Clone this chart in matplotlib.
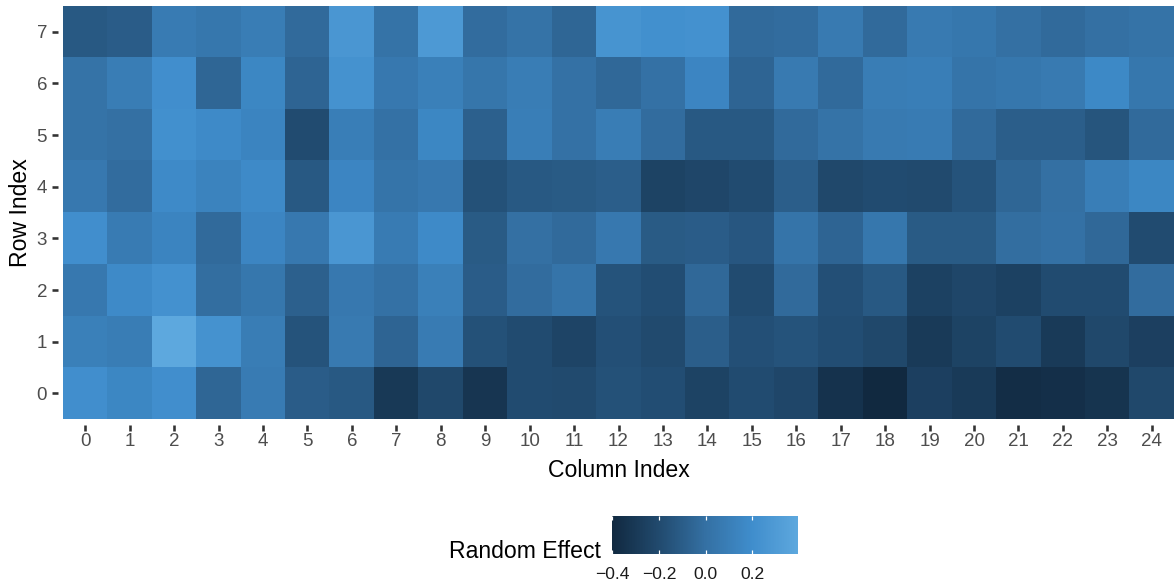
import numpy as np
import matplotlib
matplotlib.use("Agg")
import matplotlib.pyplot as plt
from matplotlib.colors import ListedColormap, Normalize
from matplotlib.cm import ScalarMappable

plt.rcParams['font.family'] = ['Liberation Sans', 'DejaVu Sans']

# Random effect per cell, one list per row index (0 = bottom row)
row0 = [0.21, 0.16, 0.21, -0.05, 0.08, -0.10, -0.12, -0.30, -0.21, -0.32, -0.19, -0.20, -0.16,
        -0.18, -0.24, -0.19, -0.22, -0.34, -0.401, -0.26, -0.29, -0.37, -0.36, -0.33, -0.21]
row1 = [0.11, 0.09, 0.397, 0.24, 0.09, -0.15, 0.07, -0.06, 0.08, -0.16, -0.19, -0.23, -0.17,
        -0.20, -0.09, -0.17, -0.15, -0.18, -0.21, -0.29, -0.24, -0.19, -0.29, -0.21, -0.26]
row2 = [0.06, 0.18, 0.23, -0.01, 0.05, -0.08, 0.06, 0.01, 0.11, -0.10, -0.02, 0.03, -0.15,
        -0.18, -0.04, -0.19, -0.03, -0.17, -0.12, -0.25, -0.22, -0.25, -0.19, -0.19, -0.02]
row3 = [0.21, 0.08, 0.14, -0.03, 0.15, 0.06, 0.27, 0.08, 0.18, -0.11, 0.00, -0.03, 0.06,
        -0.11, -0.10, -0.13, 0.03, -0.06, 0.05, -0.11, -0.11, -0.01, 0.01, -0.04, -0.19]
row4 = [0.06, -0.02, 0.18, 0.13, 0.18, -0.12, 0.15, 0.03, 0.06, -0.16, -0.12, -0.11, -0.09,
        -0.24, -0.22, -0.19, -0.09, -0.21, -0.19, -0.20, -0.15, -0.05, 0.00, 0.10, 0.16]
row5 = [0.02, 0.00, 0.22, 0.18, 0.14, -0.19, 0.10, 0.01, 0.16, -0.08, 0.10, 0.01, 0.09,
        -0.02, -0.12, -0.12, -0.03, 0.02, 0.07, 0.08, -0.03, -0.09, -0.09, -0.14, -0.03]
row6 = [0.02, 0.09, 0.21, -0.05, 0.16, -0.06, 0.24, 0.06, 0.11, 0.04, 0.09, 0.01, -0.04,
        0.01, 0.15, -0.06, 0.07, -0.03, 0.09, 0.10, 0.03, 0.05, 0.07, 0.17, 0.05]
row7 = [-0.12, -0.10, 0.08, 0.05, 0.09, -0.03, 0.27, 0.02, 0.29, -0.02, 0.02, -0.05, 0.25,
        0.22, 0.23, -0.03, -0.02, 0.07, -0.03, 0.07, 0.05, 0.00, -0.03, 0.00, 0.02]

col_labels = [str(i) for i in range(25)]
row_labels = [str(i) for i in range(8)]
legend_ticks = [-0.4, -0.2, 0.0, 0.2]

grid = np.array([row0, row1, row2, row3, row4, row5, row6, row7])


# --- sequential blue gradient, interpolated piecewise in CIELAB ---
def _srgb_to_lab(rgb):
    rgb = np.asarray(rgb, dtype=float)
    lin = np.where(rgb <= 0.04045, rgb / 12.92, ((rgb + 0.055) / 1.055) ** 2.4)
    m = np.array([[0.4124564, 0.3575761, 0.1804375],
                  [0.2126729, 0.7151522, 0.0721750],
                  [0.0193339, 0.1191920, 0.9503041]])
    xyz = m @ lin
    white = np.array([0.95047, 1.0, 1.08883])
    t = xyz / white
    f = np.where(t > 216 / 24389, np.cbrt(t), (24389 / 27 * t + 16) / 116)
    return np.array([116 * f[1] - 16, 500 * (f[0] - f[1]), 200 * (f[1] - f[2])])


def _lab_to_srgb(lab):
    L, a, b = lab
    fy = (L + 16) / 116
    fx = fy + a / 500
    fz = fy - b / 200
    f = np.array([fx, fy, fz])
    t = np.where(f ** 3 > 216 / 24389, f ** 3, (116 * f - 16) / (24389 / 27))
    white = np.array([0.95047, 1.0, 1.08883])
    xyz = t * white
    minv = np.array([[3.2404542, -1.5371385, -0.4985314],
                     [-0.9692660, 1.8760108, 0.0415560],
                     [0.0556434, -0.2040259, 1.0572252]])
    lin = np.clip(minv @ xyz, 0, 1)
    srgb = np.where(lin <= 0.0031308, 12.92 * lin, 1.055 * lin ** (1 / 2.4) - 0.055)
    return np.clip(srgb, 0, 1)


def _hex(h):
    h = h.lstrip('#')
    return np.array([int(h[i:i + 2], 16) / 255 for i in (0, 2, 4)])


anchor_pos = [0.0, 0.25, 0.5, 0.75, 1.0]
anchor_hex = ["#112940", "#214A6E", "#3470A3", "#3F8DCC", "#5DA8DE"]
anchor_lab = np.array([_srgb_to_lab(_hex(h)) for h in anchor_hex])
colors = []
for s in np.linspace(0, 1, 256):
    lab = np.array([np.interp(s, anchor_pos, anchor_lab[:, k]) for k in range(3)])
    colors.append(_lab_to_srgb(lab))
cmap = ListedColormap(colors)
norm = Normalize(vmin=grid.min(), vmax=grid.max())

W, H = 1174, 586
PX = 72 / 100  # points per pixel at 100 dpi
fig = plt.figure(figsize=(W / 100, H / 100), dpi=100)

ax = fig.add_axes([63 / W, 1 - 419.3 / H, (W - 63) / W, (419.3 - 6) / H])
ax.imshow(grid, cmap=cmap, norm=norm, origin='lower', aspect='auto',
          extent=(-0.5, len(col_labels) - 0.5, -0.5, len(row_labels) - 0.5),
          interpolation='nearest')
ax.set_xlim(-0.5, len(col_labels) - 0.5)
ax.set_ylim(-0.5, len(row_labels) - 0.5)
for s in ax.spines.values():
    s.set_visible(False)
ax.spines['left'].set_position(('outward', 5 * PX))
ax.spines['bottom'].set_position(('outward', 5.7 * PX))
ax.set_xticks(range(len(col_labels)))
ax.set_xticklabels(col_labels)
ax.set_yticks(range(len(row_labels)))
ax.set_yticklabels(row_labels)
ax.tick_params(axis='both', length=6 * PX, width=2.6 * PX, color='#333333',
               labelsize=13.5, labelcolor='#4D4D4D')
ax.tick_params(axis='y', pad=5 * PX)
ax.tick_params(axis='x', pad=2.5 * PX)
ax.set_xlabel("Column Index", fontsize=16.6, color='black', labelpad=6)
ax.set_ylabel("Row Index", fontsize=16.6, color='black', labelpad=3)

# colour legend below the panel
cax = fig.add_axes([612 / W, 1 - 554 / H, 186.3 / W, 38 / H])
cb = fig.colorbar(ScalarMappable(norm=norm, cmap=cmap), cax=cax, orientation='horizontal')
cb.outline.set_visible(False)
cb.set_ticks(legend_ticks)
cb.set_ticklabels([f"{t:.1f}".replace("-", "\u2212") for t in legend_ticks])
cax.tick_params(axis='x', direction='in', length=4 * PX, width=1.2 * PX, color='white',
                top=True, bottom=True, labelsize=12.6, labelcolor='#1A1A1A', pad=13 * PX)
fig.text(601 / W, 1 - 557.7 / H, "Random Effect", fontsize=16.6, ha='right',
         va='baseline', color='black')

fig.savefig("out.png", dpi=100)
